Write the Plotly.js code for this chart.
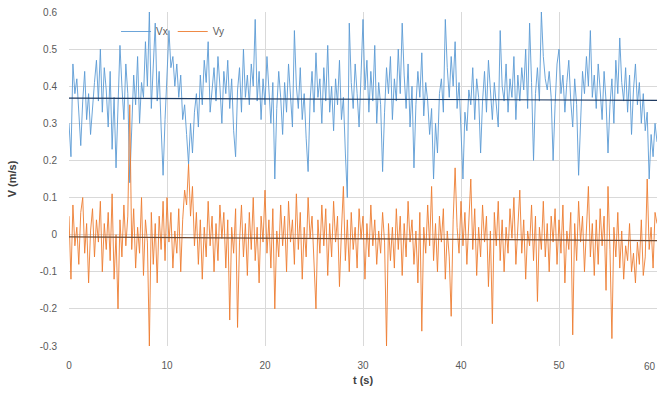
<!DOCTYPE html>
<html>
<head>
<meta charset="utf-8">
<script src="https://cdn.plot.ly/plotly-3.0.1.min.js"></script>
<style>html,body{margin:0;padding:0;background:#fff;}#chart{width:659px;height:394px;}</style>
</head>
<body>
<div id="chart"></div>
<script>
// sampling interval of the records (s)
const dt = 0.2;

// Vx (m/s), 5 samples per second
const vx = [
0.30,0.21,0.46,0.38,0.42, 0.33,0.24,0.36,0.44,0.31, 0.38,0.27,0.35,0.41,0.47, 0.36,0.50,0.33,0.45,0.39,
0.29,0.44,0.23,0.37,0.18, 0.33,0.51,0.40,0.31,0.46, 0.38,0.14,0.29,0.43,0.35, 0.48,0.30,0.41,0.37,0.52,
0.40,0.60,0.34,0.45,0.57, 0.36,0.44,0.29,0.16,0.31, 0.42,0.55,0.45,0.48,0.40, 0.46,0.37,0.43,0.31,0.35,
0.27,0.19,0.30,0.22,0.33, 0.38,0.29,0.43,0.35,0.47, 0.41,0.52,0.33,0.39,0.45, 0.36,0.48,0.40,0.30,0.44,
0.38,0.47,0.34,0.42,0.28, 0.21,0.39,0.45,0.33,0.50, 0.37,0.43,0.35,0.46,0.40, 0.58,0.36,0.44,0.31,0.42,
0.35,0.48,0.38,0.30,0.41, 0.15,0.34,0.44,0.37,0.27, 0.41,0.33,0.46,0.38,0.29, 0.55,0.40,0.34,0.45,0.31,
0.38,0.26,0.17,0.36,0.44, 0.33,0.49,0.37,0.42,0.30, 0.45,0.36,0.51,0.33,0.40, 0.28,0.42,0.35,0.47,0.31,
0.37,0.22,0.10,0.57,0.41, 0.34,0.46,0.38,0.29,0.43, 0.58,0.39,0.47,0.33,0.44, 0.36,0.51,0.30,0.41,0.35,
0.17,0.33,0.45,0.38,0.48, 0.31,0.42,0.36,0.50,0.38, 0.57,0.43,0.34,0.46,0.29, 0.40,0.18,0.35,0.44,0.37,
0.49,0.32,0.41,0.36,0.27, 0.34,0.15,0.30,0.22,0.38, 0.42,0.33,0.58,0.45,0.37, 0.48,0.40,0.52,0.34,0.41,
0.30,0.15,0.33,0.28,0.39, 0.35,0.45,0.31,0.42,0.37, 0.22,0.36,0.44,0.33,0.47, 0.39,0.31,0.41,0.35,0.29,
0.55,0.40,0.36,0.46,0.33, 0.42,0.37,0.48,0.31,0.43, 0.36,0.45,0.39,0.50,0.34, 0.57,0.41,0.20,0.38,0.45,
0.36,0.60,0.48,0.42,0.39, 0.44,0.37,0.20,0.35,0.46, 0.50,0.38,0.43,0.33,0.41, 0.47,0.36,0.29,0.42,0.35,
0.16,0.33,0.44,0.38,0.48, 0.40,0.55,0.37,0.43,0.34, 0.46,0.39,0.31,0.44,0.36, 0.22,0.35,0.42,0.30,0.47,
0.38,0.53,0.41,0.36,0.45, 0.33,0.43,0.27,0.39,0.46, 0.35,0.41,0.30,0.38,0.28, 0.33,0.15,0.27,0.21,0.30,
0.25
];

// Vy (m/s), 5 samples per second
const vy = [
0.05,-0.12,0.08,-0.03,0.02, -0.08,0.06,0.10,-0.05,0.03, -0.13,0.01,0.07,-0.06,0.04, -0.02,0.09,-0.10,0.03,-0.04,
0.06,-0.07,0.11,-0.12,0.00, -0.20,0.04,-0.06,0.08,-0.03, 0.05,0.35,-0.04,0.07,-0.09, 0.02,-0.05,0.10,-0.11,0.04,
-0.02,-0.30,0.06,-0.08,0.03, -0.13,0.05,-0.04,0.09,-0.07, 0.10,-0.02,0.06,-0.09,0.01, -0.05,0.07,-0.10,0.04,0.12,
0.08,0.19,0.05,0.13,-0.03, 0.06,-0.08,0.04,-0.12,0.02, -0.06,0.09,-0.03,0.05,-0.10, 0.03,-0.07,0.08,-0.01,0.06,
-0.09,0.04,-0.23,0.02,-0.05, 0.07,-0.25,-0.02,0.08,-0.06, 0.03,-0.11,0.06,-0.04,0.10, -0.07,0.02,-0.13,0.05,-0.02,
0.12,-0.05,0.04,-0.09,0.07, -0.20,0.01,-0.06,0.08,-0.03, 0.05,-0.10,0.09,-0.02,0.04, -0.08,0.11,-0.04,0.06,-0.12,
0.02,-0.06,0.10,-0.01,0.05, -0.09,-0.20,0.04,-0.05,0.08, -0.03,0.07,-0.11,0.03,-0.06, 0.09,-0.02,0.05,-0.14,0.01,
0.13,-0.07,0.04,-0.10,0.06, -0.04,0.02,-0.09,0.07,-0.01, 0.05,-0.12,0.03,-0.06,0.08, -0.03,0.04,-0.08,0.01,-0.05,
0.06,-0.02,-0.30,0.03,-0.07, 0.02,-0.09,0.07,-0.04,0.05, -0.11,0.03,-0.06,0.09,-0.02, 0.04,-0.08,0.01,-0.13,0.06,
-0.26,0.02,-0.05,0.08,-0.03, 0.13,-0.07,0.03,-0.10,0.05, -0.02,0.07,-0.12,0.01,-0.06, -0.22,0.04,0.18,0.02,-0.05,
0.09,-0.03,0.06,-0.08,0.03, 0.15,-0.04,0.07,-0.11,0.02, -0.06,0.08,-0.02,0.05,-0.14, 0.01,-0.24,0.06,-0.03,0.09,
-0.07,0.04,-0.10,0.02,-0.05, 0.07,-0.01,0.10,-0.08,0.03, 0.12,-0.05,0.04,-0.12,0.01, -0.03,0.08,-0.07,0.05,-0.18,
0.02,-0.04,0.09,-0.06,0.03, -0.10,0.05,-0.02,0.07,-0.08, 0.04,-0.05,0.08,-0.13,0.01, -0.04,0.06,-0.27,0.03,-0.07,
0.09,-0.02,0.05,-0.10,0.02, 0.13,-0.06,0.03,-0.11,0.04, -0.08,0.07,-0.03,0.05,-0.15, 0.13,-0.04,-0.28,0.02,-0.06,
0.06,-0.09,0.01,-0.12,-0.03, -0.07,0.03,-0.10,-0.05,-0.13, -0.02,-0.08,0.04,-0.11,-0.06, 0.15,-0.04,0.02,-0.09,0.06,
0.03
];

// linear trend lines (start/end)
const trendT = [0, 60];
const vxTrend = [0.368, 0.362];
const vyTrend = [-0.006, -0.016];

const xTicks = [0, 10, 20, 30, 40, 50, 60];
const yTicks = [-0.3, -0.2, -0.1, 0, 0.1, 0.2, 0.3, 0.4, 0.5, 0.6];
const yTickText = ['-0.3', '-0.2', '-0.1', '0', '0.1', '0.2', '0.3', '0.4', '0.5', '0.6'];

const t = vx.map((_, i) => +(i * dt).toFixed(1));

const traces = [
  {x: t, y: vx, type: 'scatter', mode: 'lines', name: 'Vx',
   line: {color: '#5b9bd5', width: 0.9}},
  {x: t, y: vy, type: 'scatter', mode: 'lines', name: 'Vy',
   line: {color: '#ed7d31', width: 0.9}},
  {x: trendT, y: vxTrend, type: 'scatter', mode: 'lines', showlegend: false,
   line: {color: '#1f3a60', width: 1.2}, hoverinfo: 'skip'},
  {x: trendT, y: vyTrend, type: 'scatter', mode: 'lines', showlegend: false,
   line: {color: '#6b4a35', width: 1.2}, hoverinfo: 'skip'}
];

// the last x tick label sits on the page edge; Plotly drops it, so draw it as an annotation
const lastTick = xTicks[xTicks.length - 1];

const layout = {
  width: 659, height: 394,
  margin: {l: 69, r: 2, t: 12, b: 48},
  paper_bgcolor: '#fff', plot_bgcolor: '#fff',
  font: {family: 'Liberation Sans, Arial, sans-serif', color: '#595959', size: 10},
  showlegend: true,
  legend: {orientation: 'h', x: 0.08, y: 0.985, xanchor: 'left', yanchor: 'top',
           bgcolor: 'rgba(0,0,0,0)', font: {size: 10, color: '#595959'}},
  xaxis: {range: [0, 60], tickvals: xTicks, ticktext: xTicks.map(String),
          showgrid: true, gridcolor: '#d9d9d9', gridwidth: 1, zeroline: false,
          showline: false, ticks: 'outside', ticklen: 10, tickcolor: 'rgba(0,0,0,0)',
          tickfont: {size: 10, color: '#595959'},
          title: {text: '<b>t (s)</b>', font: {size: 11, color: '#404040'}, standoff: 6}},
  yaxis: {range: [-0.3, 0.6], tickvals: yTicks, ticktext: yTickText,
          showgrid: true, gridcolor: '#d9d9d9', gridwidth: 1, zeroline: false,
          showline: false, ticks: 'outside', ticklen: 9, tickcolor: 'rgba(0,0,0,0)',
          tickfont: {size: 10, color: '#595959'},
          title: {text: '<b>V (m/s)</b>', font: {size: 11, color: '#404040'}, standoff: 20}},
  annotations: [{x: lastTick, xref: 'x', y: -0.062, yref: 'paper', text: String(lastTick),
                 showarrow: false, xanchor: 'right', xshift: 1, yanchor: 'middle',
                 font: {size: 10, color: '#595959'}}]
};

Plotly.newPlot('chart', traces, layout, {staticPlot: true, displayModeBar: false});
</script>
</body>
</html>
